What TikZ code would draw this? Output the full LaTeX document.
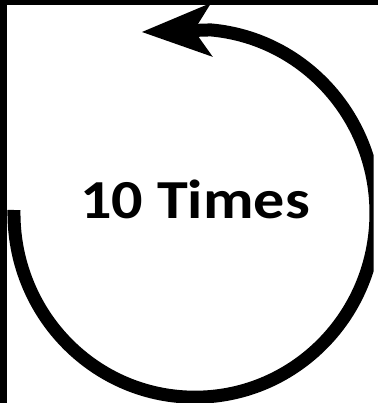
\documentclass[tikz,border=0pt]{standalone}
\usepackage{fontspec}
\setmainfont{Carlito}
\usetikzlibrary{arrows.meta}
\begin{document}
\begin{tikzpicture}[x=1pt, y=-1pt, font=\bfseries\fontsize{55}{60}\selectfont]
  \useasboundingbox (0,0) rectangle (378,403);
  % frame edges
  \fill[black] (0,0) rectangle (378,5);
  \fill[black] (0,0) rectangle (7,403);
  % loop
  \begin{scope}
    \clip (7,5) rectangle (373.5,403);
    \coordinate (tip) at (142,32);
    \draw[line width=13pt, -{Stealth[length=70pt,width=54pt,inset=18pt,line width=0pt]}]
      (14,210) arc[start angle=181, end angle=-85, x radius=181, y radius=184] -- (tip);
  \end{scope}
  % label
  \node[anchor=base, xscale=1.13] (times) at (195,218) {10 Times};
\end{tikzpicture}
\end{document}
